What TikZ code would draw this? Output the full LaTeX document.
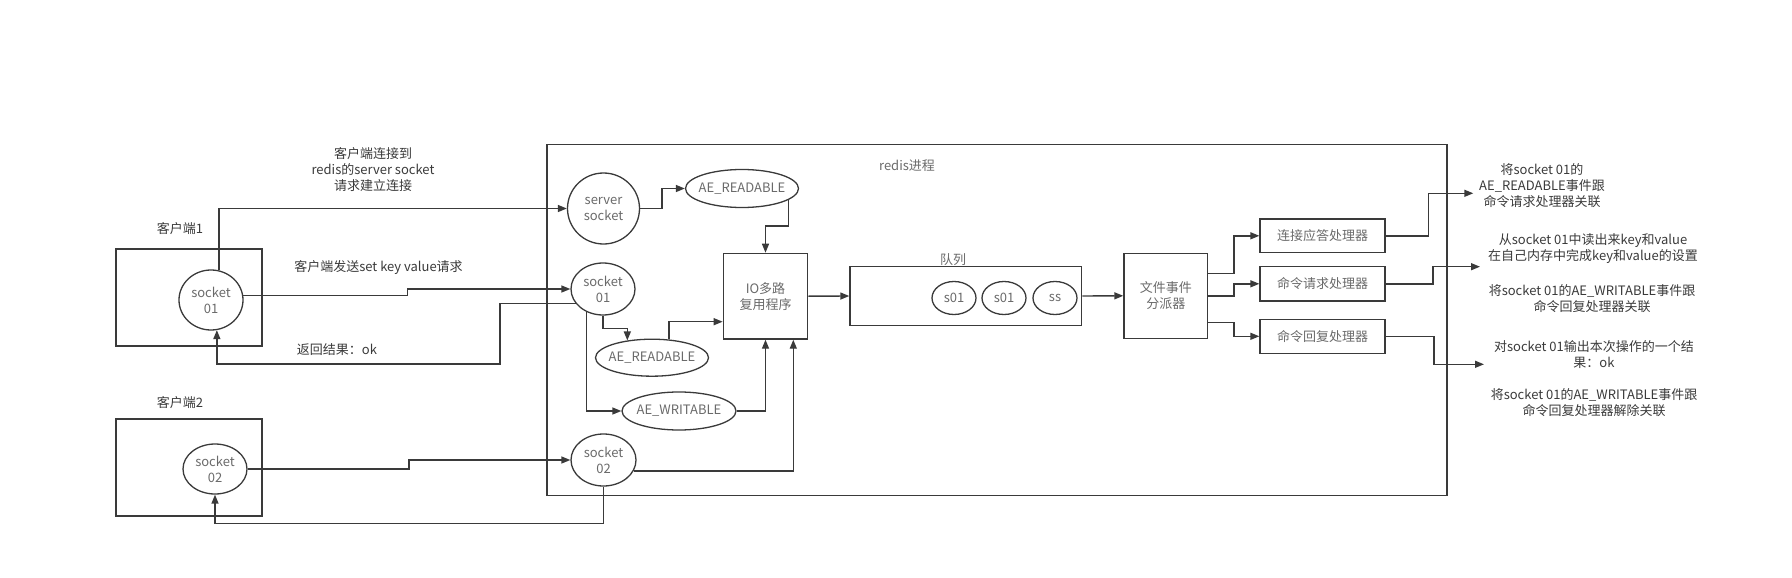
\documentclass[tikz,border=0pt]{standalone}
\usepackage{fontspec}
\setmainfont{Noto Sans CJK SC}
\usetikzlibrary{arrows.meta,shapes.geometric}

\definecolor{linecol}{HTML}{3A3A3A}
\definecolor{nodetext}{HTML}{6A6A6A}
\definecolor{labtext}{HTML}{3A3A3A}

\tikzset{
  sock/.style = {draw=linecol, line width=1.3pt, ellipse, inner sep=-6pt, align=center, text=nodetext},
  box/.style = {draw=linecol, line width=1.3pt, rectangle, inner sep=0pt, align=center, text=nodetext},
  lab/.style = {align=center, text=labtext, inner sep=0pt},
  link/.style = {draw=linecol, line width=1.4pt, -{Triangle[length=9pt,width=7pt]}}
}

\begin{document}
\begin{tikzpicture}[x=1pt, y=-1pt, every node/.style={font=\fontsize{13}{16}\selectfont}]
  \useasboundingbox (0,0) rectangle (1792,578);

  \node[box, minimum width=146pt, minimum height=97pt] (c1box) at (189,297.5) {};
  \node[lab] (c1lab) at (180,229) {客户端1};
  \node[sock, minimum width=64pt, minimum height=60pt] (c1sock) at (211,300) {socket\\01};

  \node[box, minimum width=146pt, minimum height=97pt] (c2box) at (189,467.5) {};
  \node[lab] (c2lab) at (180,403) {客户端2};
  \node[sock, minimum width=64pt, minimum height=50pt] (c2sock) at (215,469) {socket\\02};

  \node[lab] (connlab) at (373,169.5) {客户端连接到\\redis的server socket\\请求建立连接};
  \node[lab] (sendlab) at (378.5,268) {客户端发送set key value请求};
  \node[lab] (retlab) at (337,350) {返回结果：ok};

  \node[box, minimum width=900pt, minimum height=351pt] (redis) at (997,320.3) {};
  \node[lab, text=nodetext] (redislab) at (907,166) {redis进程};

  \node[sock, minimum width=72pt, minimum height=71pt] (ssock) at (603.5,208.5) {server\\socket};
  \node[sock, minimum width=113pt, minimum height=38pt] (aer1) at (742,188.5) {AE\_READABLE};
  \node[sock, minimum width=64pt, minimum height=52pt] (sock1) at (603,289) {socket\\01};
  \node[sock, minimum width=113pt, minimum height=37pt] (aer2) at (652,357.7) {AE\_READABLE};
  \node[sock, minimum width=114pt, minimum height=38pt] (aew) at (679,411) {AE\_WRITABLE};
  \node[sock, minimum width=65pt, minimum height=52pt] (sock2) at (603.5,460) {socket\\02};

  \node[box, minimum width=84.4pt, minimum height=85.7pt] (io) at (765.5,296.2) {IO多路\\复用程序};

  \node[box, minimum width=231.7pt, minimum height=58.6pt] (queue) at (965.8,296) {};
  \node[lab, text=nodetext] (queuelab) at (953,260) {队列};
  \node[sock, minimum width=44pt, minimum height=33pt] (q1) at (954,298) {s01};
  \node[sock, minimum width=44pt, minimum height=33pt] (q2) at (1004,298) {s01};
  \node[sock, minimum width=44pt, minimum height=33pt] (q3) at (1055,298) {ss};

  \node[box, minimum width=83.7pt, minimum height=85pt] (fed) at (1165.8,295.8) {文件事件\\分派器};

  \node[box, minimum width=125pt, minimum height=33.7pt] (h1) at (1322.5,235.8) {连接应答处理器};
  \node[box, minimum width=125pt, minimum height=34.3pt] (h2) at (1322.5,283.8) {命令请求处理器};
  \node[box, minimum width=125pt, minimum height=34pt] (h3) at (1322.5,336.3) {命令回复处理器};

  \node[lab] (t1) at (1542,185.5) {将socket 01的\\AE\_READABLE事件跟\\命令请求处理器关联};
  \node[lab] (t2a) at (1593,249) {从socket 01中读出来key和value\\在自己内存中完成key和value的设置};
  \node[lab] (t2b) at (1592,298.2) {将socket 01的AE\_WRITABLE事件跟\\命令回复处理器关联};
  \node[lab] (t3a) at (1594,354.5) {对socket 01输出本次操作的一个结\\果：ok};
  \node[lab] (t3b) at (1594,403) {将socket 01的AE\_WRITABLE事件跟\\命令回复处理器解除关联};

  \coordinate (tip1) at (1473.3,193.3);
  \coordinate (tip2) at (1480,266.7);
  \coordinate (tip3) at (1484,364.3);

  \draw[link] (c1sock.75) |- (ssock.west);
  \draw[link] (c1sock.8) -- ++(164,0) |- (sock1.west);
  \draw[link] (sock1.208) -| (500,364) -| (c1sock.-79);
  \draw[link] (c2sock.east) -- ++(161.5,0) |- (sock2.west);
  \draw[link] (sock2.south) -- ++(0,37) -| (c2sock.south);

  \draw[link] (ssock.east) -- ++(22,0) |- (aer1.west);
  \draw[link] (aer1.-14.5) -- ++(0,26) -| (io.north);
  \draw[link] (sock1.south) -- ++(0,13) -| (aer2.145);
  \draw[link] (aer2.47) |- ([yshift=-25.5pt]io.west);
  \draw[link] (sock1.-126) |- (aew.west);
  \draw[link] (aew.east) -| (io.south);
  \draw[link] (sock2.-20) -| ([xshift=27.8pt]io.south);
  \draw[link] (io.east) -- (queue.west);
  \draw[link] (queue.east) -- (fed.west);

  \draw[link] ([yshift=22.5pt]fed.east) -- ++(25.6,0) |- (h1.west);
  \draw[link] (fed.east) -- ++(25.6,0) |- (h2.west);
  \draw[link] ([yshift=-26.5pt]fed.east) -- ++(25.6,0) |- (h3.west);
  \draw[link] (h1.east) -- ++(42.7,0) |- (tip1);
  \draw[link] (h2.east) -- ++(47.3,0) |- (tip2);
  \draw[link] (h3.east) -- ++(48.3,0) |- (tip3);
\end{tikzpicture}
\end{document}
